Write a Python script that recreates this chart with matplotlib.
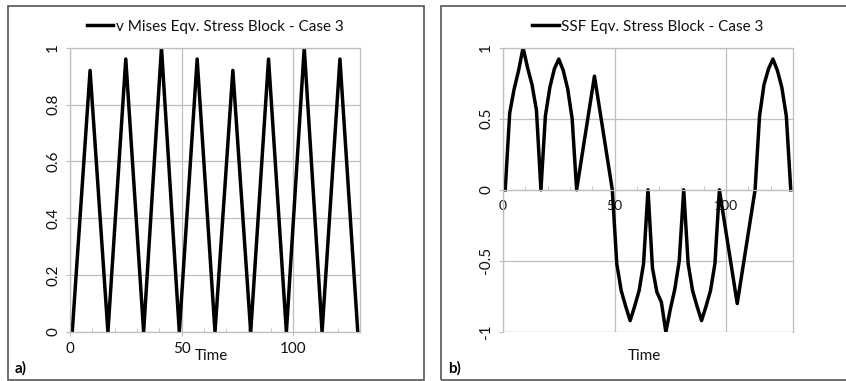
import matplotlib
matplotlib.use("Agg")
import matplotlib.pyplot as plt
from matplotlib.patches import Rectangle
from matplotlib.ticker import MultipleLocator

plt.rcParams['font.family'] = ['Lato', 'DejaVu Sans']

# von Mises block: turning points only
vm_time = [1, 9, 17, 25, 33, 41, 49, 57, 65, 73, 81, 89, 97, 105, 113, 121, 129]
vm_stress = [0, 0.92, 0, 0.96, 0, 1.0, 0, 0.96, 0, 0.92, 0, 0.96, 0, 1.0, 0, 0.96, 0]

# SSF block, sampled every 2 time units
ssf_time = list(range(1, 130, 2))
ssf_stress = [
    0, 0.54, 0.71, 0.84, 1.0, 0.86, 0.74, 0.56,
    0, 0.52, 0.72, 0.85, 0.92, 0.84, 0.71, 0.50,
    0, 0.20, 0.40, 0.60, 0.80, 0.60, 0.40, 0.20,
    0, -0.52, -0.71, -0.82, -0.92, -0.82, -0.71, -0.52,
    0, -0.55, -0.72, -0.79, -1.0, -0.84, -0.70, -0.50,
    0, -0.52, -0.71, -0.82, -0.92, -0.82, -0.71, -0.52,
    0, -0.20, -0.40, -0.60, -0.80, -0.60, -0.40, -0.20,
    0, 0.52, 0.74, 0.85, 0.92, 0.84, 0.72, 0.52,
    0,
]

vm_yticks = [0, 0.2, 0.4, 0.6, 0.8, 1]
vm_ylabels = ['0', '0.2', '0.4', '0.6', '0.8', '1']
ssf_yticks = [-1, -0.5, 0, 0.5, 1]
ssf_ylabels = ['-1', '-0.5', '0', '0.5', '1']
xticks = [0, 50, 100]

W, H = 846, 381
GRID = '#bfbfbf'
FS = 11

fig = plt.figure(figsize=(W / 100, H / 100), dpi=100)

# outer frames of the two panels
for x0, x1 in [(8, 424), (441, 852)]:
    fig.patches.append(Rectangle((x0 / W, 1 / H), (x1 - x0) / W, 374 / H,
                                 transform=fig.transFigure, fill=False,
                                 edgecolor='#555555', linewidth=1.2))

def setup(ax, yticks, ylabels, ylim):
    ax.set_xlim(0, 130)
    ax.set_ylim(*ylim)
    ax.set_xticks(xticks)
    ax.set_xticklabels([str(t) for t in xticks], fontsize=FS)
    ax.xaxis.set_minor_locator(MultipleLocator(10))
    ax.set_yticks(yticks)
    ax.set_yticklabels(ylabels, fontsize=FS, rotation=90, va='center')
    ax.grid(True, color=GRID, linewidth=0.9)
    for s in ax.spines.values():
        s.set_color(GRID)
        s.set_linewidth(0.9)
    ax.tick_params(axis='both', which='major', color=GRID, length=3, labelcolor='#111111')
    ax.tick_params(axis='x', which='minor', direction='in', color=GRID, length=3)
    ax.tick_params(axis='y', pad=4)
    ax.tick_params(axis='x', pad=4)
    ax.text(0.489, -0.084, 'Time', transform=ax.transAxes, ha='center', va='center',
            fontsize=FS, color='#111111')

def add_legend(ax):
    ax.legend(loc='center', bbox_to_anchor=(0.5, 1.074), frameon=False, fontsize=FS,
              handlelength=1.75, handletextpad=0.15, borderaxespad=0,
              labelcolor='#111111')

# a) von Mises
ax1 = fig.add_axes([70 / W, 49 / H, 290 / W, 284.3 / H])
ax1.plot(vm_time, vm_stress, color='black', linewidth=2.5,
         label='v Mises Eqv. Stress Block - Case 3')
setup(ax1, vm_yticks, vm_ylabels, (0, 1))
add_legend(ax1)
fig.text(15 / W, 1 - 368 / H, 'a)', fontsize=FS, fontweight='bold', va='center')

# b) SSF
ax2 = fig.add_axes([503 / W, 49 / H, 290 / W, 284.3 / H])
ax2.plot(ssf_time, ssf_stress, color='black', linewidth=2.5,
         label='SSF Eqv. Stress Block - Case 3')
setup(ax2, ssf_yticks, ssf_ylabels, (-1, 1))
ax2.spines['bottom'].set_position(('data', 0))
ax2.axhline(-1, color=GRID, linewidth=0.9, zorder=0)
add_legend(ax2)
fig.text(448 / W, 1 - 368 / H, 'b)', fontsize=FS, fontweight='bold', va='center')

fig.savefig('out.png', dpi=100)
